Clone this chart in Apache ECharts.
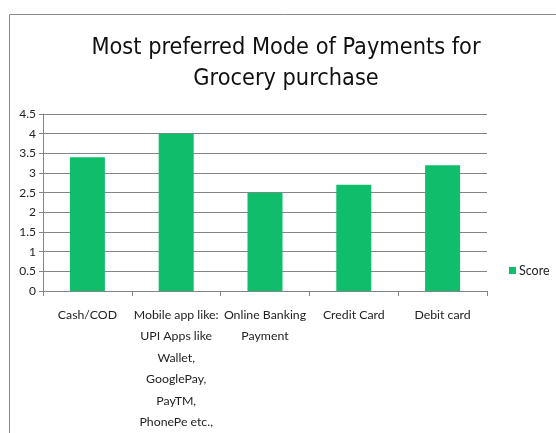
<!DOCTYPE html>
<html>
<head>
<meta charset="utf-8">
<script src="https://cdn.jsdelivr.net/npm/echarts@6/dist/echarts.min.js"></script>
<style>
html,body{margin:0;padding:0;background:#fff;}
#c{width:556px;height:433px;}
</style>
</head>
<body>
<div id="c"></div>
<script>
var titleLines = ["Most preferred Mode of Payments for", "Grocery purchase"];
var categories = [
  "Cash/COD",
  "Mobile app like:\nUPI Apps like\nWallet,\nGooglePay,\nPayTM,\nPhonePe etc.,",
  "Online Banking\nPayment",
  "Credit Card",
  "Debit card"
];
var seriesName = "Score";
var scores = [3.4, 4.0, 2.5, 2.7, 3.2];
var yTicks = { min: 0, max: 4.5, interval: 0.5 };

var chart = echarts.init(document.getElementById('c'), null, { renderer: 'canvas' });
var labelFont = "Lato, 'Open Sans', sans-serif";
chart.setOption({
  backgroundColor: '#ffffff',
  animation: false,
  graphic: [{
    type: 'rect',
    left: 7, top: 12,
    shape: { width: 600, height: 500 },
    style: { fill: 'none', stroke: '#8a8a8a', lineWidth: 1 },
    z: -1
  }],
  title: {
    text: titleLines.join('\n'),
    left: 281, top: 27, textAlign: 'center',
    textStyle: {
      fontFamily: "'DejaVu Sans Condensed', 'Liberation Sans Narrow', sans-serif",
      fontSize: 23.3, fontWeight: 'normal', color: '#111', lineHeight: 31
    }
  },
  legend: {
    data: [seriesName],
    orient: 'vertical',
    left: 504, top: 259,
    itemWidth: 7, itemHeight: 7, itemGap: 4,
    icon: 'rect',
    textStyle: { fontFamily: labelFont, fontSize: 12.5, color: '#222', padding: [0, 0, 0, -2] }
  },
  grid: { left: 43, right: 69, top: 114, bottom: 140, containLabel: false },
  xAxis: {
    type: 'category',
    data: categories,
    axisLine: { lineStyle: { color: '#858585', width: 1 } },
    axisTick: { show: true, alignWithLabel: false, length: 5, lineStyle: { color: '#858585' } },
    axisLabel: {
      interval: 0, margin: 13, color: '#222',
      fontFamily: labelFont, fontSize: 12.3, lineHeight: 21.5
    }
  },
  yAxis: {
    type: 'value',
    min: yTicks.min, max: yTicks.max, interval: yTicks.interval,
    axisLine: { show: true, lineStyle: { color: '#858585', width: 1 } },
    axisTick: { show: true, inside: false, length: 4, lineStyle: { color: '#858585' } },
    splitLine: { show: true, lineStyle: { color: '#858585', width: 1.2 } },
    axisLabel: { margin: 7, color: '#222', fontFamily: labelFont, fontSize: 12 }
  },
  series: [{
    name: seriesName,
    type: 'bar',
    data: scores,
    barWidth: 35,
    itemStyle: { color: '#10bd6b' }
  }]
});
</script>
</body>
</html>
